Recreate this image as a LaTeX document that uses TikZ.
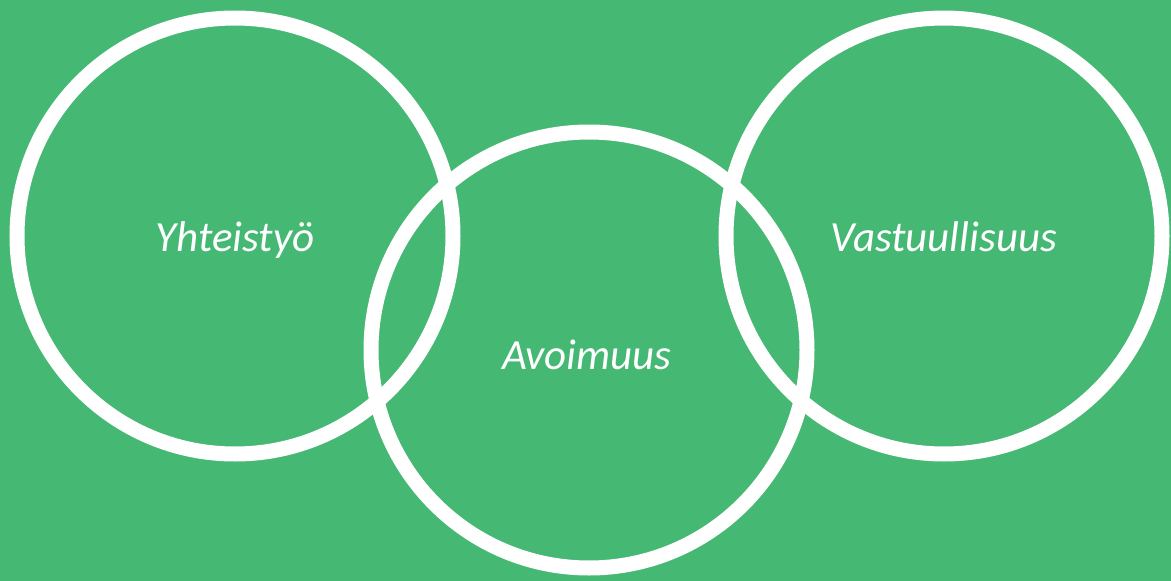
\documentclass[tikz,border=0pt]{standalone}
\usepackage{fontspec}
\setmainfont{Carlito}
\definecolor{bggreen}{HTML}{45B873}
\begin{document}
\begin{tikzpicture}[x=1pt,y=-1pt,
  ring/.style={draw=white,line width=15pt,circle,minimum size=436pt,inner sep=0pt},
  lbl/.style={text=white,font=\fontsize{43}{50}\selectfont\itshape,anchor=base,inner sep=0pt}]
\fill[bggreen] (0,0) rectangle (1171,581);
\useasboundingbox (0,0) rectangle (1171,581);
\node[ring] (c1) at (235,236) {};
\node[ring] (c2) at (589,350) {};
\node[ring] (c3) at (944,236) {};
\node[lbl] (t1) at (235,251) {Yhteistyö};
\node[lbl] (t2) at (587,369) {Avoimuus};
\node[lbl] (t3) at (944,251) {Vastuullisuus};
\end{tikzpicture}
\end{document}
